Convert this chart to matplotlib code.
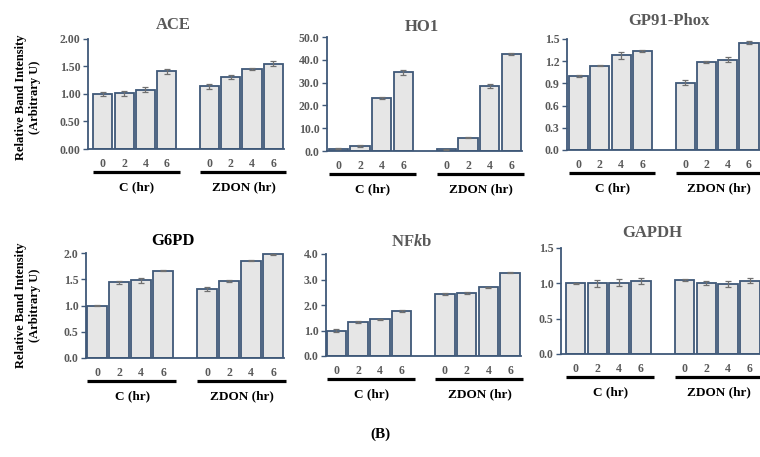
import matplotlib
matplotlib.use("Agg")
import matplotlib.pyplot as plt
from matplotlib.transforms import offset_copy

# ---- data ------------------------------------------------------------------
hours = ["0", "2", "4", "6"]
groups = ["C (hr)", "ZDON (hr)"]

ace_mean = [1.00, 1.01, 1.08, 1.41, 1.14, 1.31, 1.46, 1.55]
ace_err = [0.04, 0.05, 0.04, 0.04, 0.05, 0.03, 0.02, 0.05]

ho1_mean = [1.0, 2.2, 23.3, 34.5, 0.7, 5.8, 28.5, 42.6]
ho1_err = [0.3, 0.3, 0.4, 1.2, 0.3, 0.2, 1.0, 0.5]

gp91_mean = [1.00, 1.14, 1.28, 1.34, 0.91, 1.19, 1.22, 1.45]
gp91_err = [0.01, 0.005, 0.05, 0.01, 0.03, 0.01, 0.03, 0.02]

g6pd_mean = [1.00, 1.44, 1.48, 1.66, 1.31, 1.46, 1.85, 1.98]
g6pd_err = [0.005, 0.03, 0.05, 0.01, 0.04, 0.02, 0.01, 0.01]

nfkb_mean = [1.00, 1.35, 1.45, 1.77, 2.43, 2.47, 2.69, 3.26]
nfkb_err = [0.04, 0.04, 0.02, 0.03, 0.03, 0.04, 0.03, 0.02]

gapdh_mean = [1.00, 1.00, 1.01, 1.03, 1.05, 1.01, 0.99, 1.04]
gapdh_err = [0.01, 0.05, 0.05, 0.04, 0.01, 0.03, 0.04, 0.03]

# bar slots: 4 control, one empty slot, 4 ZDON
xpos = [0, 1, 2, 3, 5, 6, 7, 8]

# ---- style -----------------------------------------------------------------
W, H = 760, 457
SERIF = "Liberation Serif"
GRAY = "#595959"
EDGE = "#3f5878"
FILL = "#e6e6e6"

# italic k in NFkb drawn with the same serif face
plt.rcParams["mathtext.fontset"] = "custom"
plt.rcParams["mathtext.it"] = "Liberation Serif:italic:bold"
plt.rcParams["mathtext.rm"] = "Liberation Serif:bold"

fig = plt.figure(figsize=(W / 100, H / 100), dpi=100)
fig.patch.set_facecolor("white")


def panel(means, errs, spine, c0_left, pitch, top, bottom, ymax, step, fmt,
          title, tx, ty, tcol=GRAY):
    xmin = -(c0_left + 0.45 * pitch - spine) / pitch
    xmax = 8.5
    width = (xmax - xmin) * pitch
    ax = fig.add_axes([spine / W, 1 - bottom / H, width / W, (bottom - top) / H])
    ax.bar(xpos, means, width=0.9, color=FILL, edgecolor=EDGE, linewidth=1.3,
           zorder=2)
    ax.errorbar(xpos, means, yerr=errs, fmt="none", ecolor="#707070",
                elinewidth=0.9, capsize=2, capthick=0.9, zorder=3)
    ax.set_xlim(xmin, xmax)
    ax.set_ylim(0, ymax)
    n = int(round(ymax / step))
    ticks = [i * step for i in range(n + 1)]
    ax.set_yticks(ticks, labels=[fmt % t for t in ticks])
    for lab in ax.get_yticklabels():
        lab.set_fontfamily(SERIF)
        lab.set_fontweight("bold")
    ax.tick_params(axis="y", direction="out", length=3.5, width=1, color=EDGE,
                   labelsize=8.5, labelcolor=GRAY, pad=2)
    ax.set_xticks([])
    for s in ("top", "right"):
        ax.spines[s].set_visible(False)
    for s in ("left", "bottom"):
        ax.spines[s].set_color(EDGE)
        ax.spines[s].set_linewidth(1.3)

    # hour numbers, group bars and group labels under the axis
    t_num = offset_copy(ax.get_xaxis_transform(), fig=fig, y=-15, units="dots")
    t_line = offset_copy(ax.get_xaxis_transform(), fig=fig, y=-23, units="dots")
    t_grp = offset_copy(ax.get_xaxis_transform(), fig=fig, y=-38, units="dots")
    for x, h in zip(xpos, hours * 2):
        ax.text(x, 0, h, transform=t_num, ha="center", va="center",
                fontsize=8.5, fontweight="bold", color=GRAY, family=SERIF)
    for g, (a, b) in zip(groups, [(0, 3), (5, 8)]):
        ax.plot([a - 0.45, b + 0.6], [0, 0], transform=t_line, color="black",
                lw=2.3, clip_on=False, solid_capstyle="butt")
        ax.text((a + b) / 2 + 0.1, 0, g, transform=t_grp, ha="center",
                va="center", fontsize=9.5, fontweight="bold", color="black",
                family=SERIF)

    fig.text(tx / W, 1 - ty / H, title, ha="center", va="center",
             fontsize=12, fontweight="bold", color=tcol, family=SERIF)
    return ax


panel(ace_mean, ace_err, 88, 93.3, 21.3, 39, 149, 2.0, 0.5, "%.2f",
      "ACE", 173, 25)
panel(ho1_mean, ho1_err, 327, 328.7, 21.6, 37, 151, 50, 10, "%.1f",
      "HO1", 422, 27)
panel(gp91_mean, gp91_err, 567, 569, 21.3, 39, 150, 1.5, 0.3, "%.1f",
      "GP91-Phox", 669, 21)
panel(g6pd_mean, g6pd_err, 86, 87.3, 22.0, 253, 358, 2.0, 0.5, "%.1f",
      "G6PD", 173, 241, tcol="black")
panel(nfkb_mean, nfkb_err, 326, 326.7, 21.7, 254, 356, 4.0, 1.0, "%.1f",
      "NF$\\mathit{k}$b", 412, 242)
panel(gapdh_mean, gapdh_err, 561, 565.7, 21.8, 248, 354, 1.5, 0.5, "%.1f",
      "GAPDH", 652, 233)

# shared y labels on the left column
for yc in (97, 305):
    fig.text(28 / W, 1 - yc / H, "Relative Band Intensity\n(Arbitrary U)",
             rotation=90, ha="center", va="center", multialignment="center",
             fontsize=9, fontweight="bold", family=SERIF, linespacing=1.25)

fig.text(380 / W, 1 - 434 / H, "(B)", ha="center", va="center",
         fontsize=11, fontweight="bold", family=SERIF)

fig.savefig("out.png", dpi=100)
